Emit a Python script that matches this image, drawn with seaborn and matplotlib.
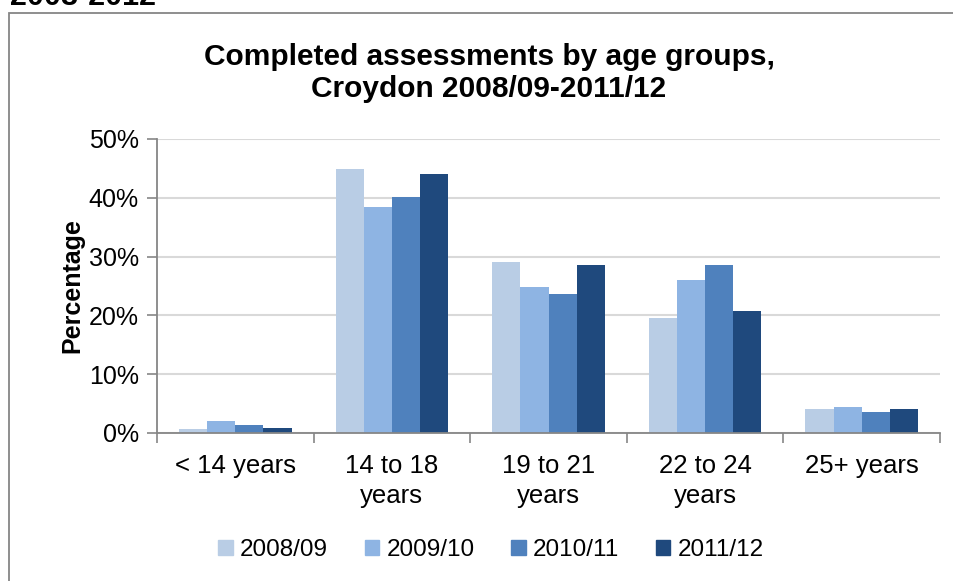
import numpy as np
import pandas as pd
import matplotlib
matplotlib.use("Agg")
import matplotlib.pyplot as plt
import matplotlib.ticker as mticker
from matplotlib.patches import Rectangle
import seaborn as sns

age_groups = ["< 14 years", "14 to 18\nyears", "19 to 21\nyears", "22 to 24\nyears", "25+ years"]
years = ["2008/09", "2009/10", "2010/11", "2011/12"]
pct_2008 = [0.7, 44.9, 29.1, 19.5, 4.0]
pct_2009 = [2.0, 38.5, 24.9, 26.1, 4.4]
pct_2010 = [1.4, 40.1, 23.6, 28.5, 3.6]
pct_2011 = [0.85, 44.0, 28.5, 20.7, 4.1]
colors = ["#B9CDE5", "#8EB4E3", "#4F81BD", "#1F497D"]

rows = []
for yr, vals in zip(years, [pct_2008, pct_2009, pct_2010, pct_2011]):
    for grp, v in zip(age_groups, vals):
        rows.append({"age": grp, "year": yr, "pct": v / 100})
df = pd.DataFrame(rows)

sns.set_theme(style="white")
plt.rcParams['font.family'] = ['Liberation Sans', 'DejaVu Sans']
plt.rcParams['text.color'] = 'black'
plt.rcParams['axes.labelcolor'] = 'black'

fig = plt.figure(figsize=(9.54, 5.81), dpi=100)
ax = fig.add_axes([157/954, 1 - 433/581, 783/954, 294/581])

sns.barplot(data=df, x="age", y="pct", hue="year", order=age_groups,
            hue_order=years, palette=colors, width=0.72, linewidth=0,
            saturation=1, ax=ax, legend=True)

ax.set_ylim(0, 0.5)
ax.set_xlim(-0.5, 4.5)
ax.yaxis.set_major_locator(mticker.MultipleLocator(0.1))
ax.yaxis.set_major_formatter(mticker.FuncFormatter(lambda v, p: f"{v*100:.0f}%"))
ax.grid(axis='y', color="#D9D9D9", linewidth=1.5)
ax.set_axisbelow(True)
for s in ["top", "right"]:
    ax.spines[s].set_visible(False)
for s in ["left", "bottom"]:
    ax.spines[s].set_color("#868686")
    ax.spines[s].set_linewidth(1.3)

ax.tick_params(axis='y', which='major', left=True, length=7, width=1.2,
               color="#868686", labelsize=18, pad=6, labelcolor="black")
ax.tick_params(axis='x', which='major', length=0, labelsize=18.5, pad=15, labelcolor="black")
ax.set_xticks(np.arange(-0.5, 5, 1), minor=True)
ax.tick_params(axis='x', which='minor', bottom=True, length=7, width=1.2, color="#868686")
for t in ax.get_xticklabels():
    t.set_linespacing(1.35)

ax.set_xlabel("")
ax.set_ylabel("Percentage", fontsize=18, fontweight="bold", labelpad=3)

ax.get_legend().remove()
handles = [Rectangle((0, 0), 1, 1, color=c) for c in colors]
fig.legend(handles, years, loc="center", bbox_to_anchor=(491/954, 1 - 550/581),
           ncol=4, frameon=False, fontsize=17.5, handlelength=0.6, handleheight=0.6,
           handletextpad=0.3, columnspacing=1.5)

fig.text(489/954, 1 - 73/581, "Completed assessments by age groups,\nCroydon 2008/09-2011/12",
         ha="center", va="center", fontsize=21.5, fontweight="bold", linespacing=1.2)

fig.text(10/954, 1 - 5/581, "2008-2012", ha="left", va="baseline",
         fontsize=22, fontweight="bold")

fig.patches.append(Rectangle((9/954, -0.1), 1.2, 1.1 - 13/581,
                             transform=fig.transFigure, fill=False,
                             edgecolor="#868686", linewidth=1.3))

fig.savefig("out.png", dpi=100)
